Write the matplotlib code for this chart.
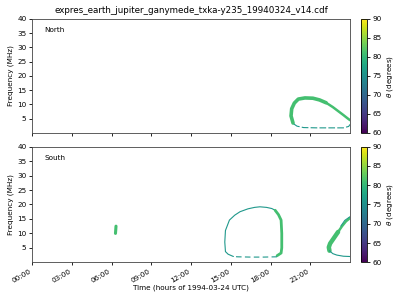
import matplotlib
matplotlib.use("Agg")
import matplotlib.pyplot as plt
import numpy as np
from matplotlib.colors import Normalize
from matplotlib.cm import ScalarMappable

# ---- data (time in hours of 1994-03-24, frequency in MHz, theta in degrees) ----
north_upper_t = [19.7, 19.55, 19.6, 19.8, 20.1, 20.6, 21.2, 21.7, 22.2]
north_upper_f = [3.5, 6.0, 8.5, 10.5, 11.9, 12.3, 12.2, 11.6, 10.6]
north_tail_t = [22.2, 22.7, 23.1, 23.5, 23.8, 24.0]
north_tail_f = [10.6, 9.1, 7.7, 6.3, 5.2, 4.5]
north_upper_theta = 81

north_lower_t = [19.75, 20.0, 20.5, 21.5, 22.5, 23.5, 23.9, 24.0]
north_lower_f = [3.2, 2.4, 1.9, 1.8, 1.8, 1.8, 2.3, 3.0]
north_lower_theta = 76

south_blob_t = [6.3, 6.32, 6.34]
south_blob_f = [10.0, 11.2, 12.5]
south_blob_theta = 81

south_loop_left_t = [15.2, 14.8, 14.6, 14.55, 14.6, 14.9, 15.3, 15.7, 16.3, 16.8, 17.2, 17.7, 18.1, 18.35]
south_loop_left_f = [2.0, 2.8, 3.7, 7.0, 11.0, 14.6, 16.3, 17.5, 18.5, 19.0, 19.2, 19.0, 18.6, 18.0]
south_loop_left_theta = 76

south_loop_right_t = [18.35, 18.6, 18.8, 18.85, 18.85, 18.8, 18.5]
south_loop_right_f = [18.0, 16.5, 14.6, 10.0, 5.0, 3.2, 2.3]
south_loop_right_theta = 81

south_loop_bottom_t = [18.5, 17.5, 16.5, 15.5, 15.2]
south_loop_bottom_f = [1.9, 1.8, 1.8, 1.9, 2.0]
south_loop_bottom_theta = 76

south_arc_band_t = [22.45, 22.4, 22.5, 22.8, 23.1]
south_arc_band_f = [4.0, 5.2, 6.5, 8.5, 10.5]
south_arc_top_t = [23.1, 23.4, 23.7, 24.0]
south_arc_top_f = [10.5, 12.5, 14.2, 15.3]
south_arc_band_theta = 81

south_arc_edge_t = [23.3, 23.6, 24.0]
south_arc_edge_f = [12.5, 14.5, 15.8]
south_arc_low_t = [22.45, 22.7, 23.0, 23.5, 24.0]
south_arc_low_f = [4.0, 3.0, 2.5, 2.1, 2.0]
south_arc_low_theta = 76

xtick_hours = [0, 3, 6, 9, 12, 15, 18, 21]
xtick_labels = ["00:00", "03:00", "06:00", "09:00", "12:00", "15:00", "18:00", "21:00"]
ytick_vals = [5, 10, 15, 20, 25, 30, 35, 40]
cbar_ticks = [60, 65, 70, 75, 80, 85, 90]

plt.rcParams['font.family'] = ['DejaVu Sans']
fs = 5.2
cmap = plt.get_cmap('viridis')
norm = Normalize(60, 90)

fig = plt.figure(figsize=(4, 3), dpi=100)
ax1 = fig.add_axes([0.08, 0.5567, 0.795, 0.38])
ax2 = fig.add_axes([0.08, 0.1257, 0.795, 0.3853])
cax1 = fig.add_axes([0.9025, 0.5567, 0.015, 0.38])
cax2 = fig.add_axes([0.9025, 0.1257, 0.015, 0.3853])

def draw(ax, t, f, theta, lw, ls='-'):
    ax.plot(t, f, color=cmap(norm(theta)), lw=lw, ls=ls, solid_capstyle='round')

draw(ax1, north_upper_t, north_upper_f, north_upper_theta, 2.6)
draw(ax1, north_tail_t, north_tail_f, north_upper_theta, 1.8)
draw(ax1, north_lower_t, north_lower_f, north_lower_theta, 0.8, (0, (6, 2)))

draw(ax2, south_blob_t, south_blob_f, south_blob_theta, 2.2)
draw(ax2, south_loop_left_t, south_loop_left_f, south_loop_left_theta, 0.8)
draw(ax2, south_loop_right_t, south_loop_right_f, south_loop_right_theta, 2.0)
draw(ax2, south_loop_bottom_t, south_loop_bottom_f, south_loop_bottom_theta, 0.8, (0, (5, 3)))
draw(ax2, south_arc_band_t, south_arc_band_f, south_arc_band_theta, 3.2)
draw(ax2, south_arc_top_t, south_arc_top_f, south_arc_band_theta, 1.8)
draw(ax2, south_arc_edge_t, south_arc_edge_f, south_arc_low_theta, 0.7)
draw(ax2, south_arc_low_t, south_arc_low_f, south_arc_low_theta, 0.8)

for ax, lab in [(ax1, "North"), (ax2, "South")]:
    ax.set_xlim(0, 24)
    ax.set_ylim(0, 40)
    ax.set_xticks(xtick_hours)
    ax.set_yticks(ytick_vals)
    ax.tick_params(labelsize=fs, length=2.5, width=0.6, pad=1.5)
    ax.set_ylabel("Frequency (MHz)", fontsize=fs, labelpad=2)
    ax.text(0.04, 0.9, lab, transform=ax.transAxes, fontsize=fs, va='center')
    for s in ax.spines.values():
        s.set_linewidth(0.6)
        s.set_color('#444444')

ax1.set_xticklabels([])
ax2.set_xticklabels(xtick_labels, rotation=30, ha='right')
ax2.set_xlabel("Time (hours of 1994-03-24 UTC)", fontsize=fs, labelpad=1)
ax1.set_title("expres_earth_jupiter_ganymede_txka-y235_19940324_v14.cdf", fontsize=6.3, pad=4)

for cax in (cax1, cax2):
    sm = ScalarMappable(norm=norm, cmap=cmap)
    cb = fig.colorbar(sm, cax=cax, ticks=cbar_ticks)
    cb.ax.tick_params(labelsize=fs, length=2.5, width=0.6, pad=1.5)
    cb.set_label(r"$\theta$ (degrees)", fontsize=fs, labelpad=2)
    cb.outline.set_linewidth(0.6)

fig.savefig("out.png", dpi=100)
